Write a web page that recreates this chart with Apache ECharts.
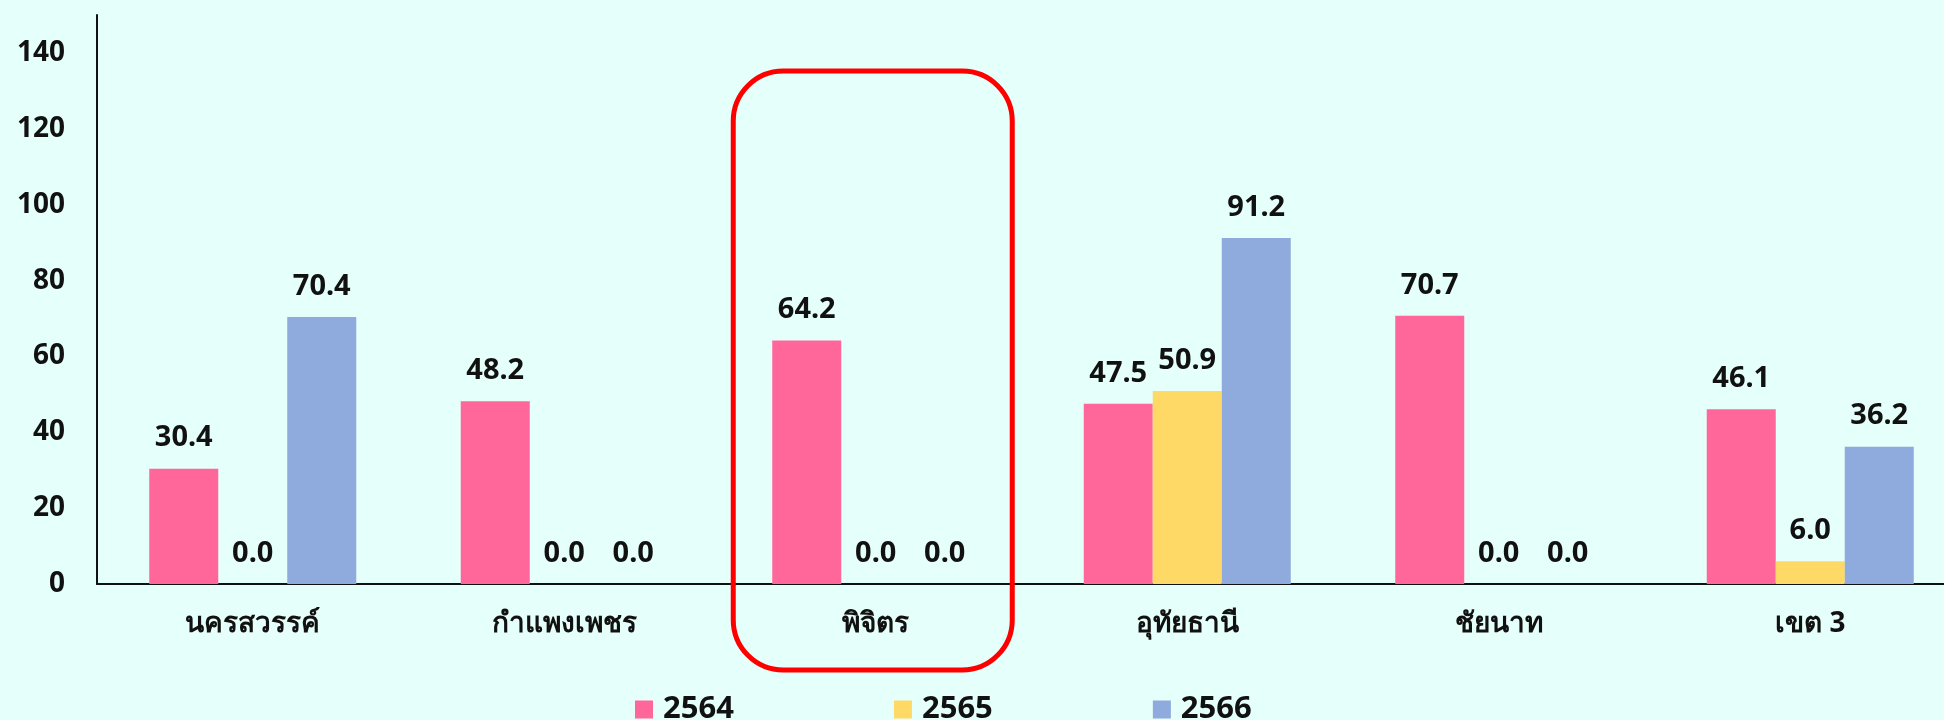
<!DOCTYPE html>
<html>
<head>
<meta charset="utf-8">
<script src="https://cdn.jsdelivr.net/npm/echarts@6/dist/echarts.min.js"></script>
<style>
  html, body { margin: 0; padding: 0; background: #e5fffa; overflow: hidden; }
  /* plot runs a little past the right edge of the window, like the original */
  #chart { width: 1966px; height: 720px; }
</style>
</head>
<body>
<div id="chart"></div>
<script>
var categories = ['นครสวรรค์', 'กำแพงเพชร', 'พิจิตร', 'อุทัยธานี', 'ชัยนาท', 'เขต 3'];
var years = ['2564', '2565', '2566'];
var values2564 = [30.4, 48.2, 64.2, 47.5, 70.7, 46.1];
var values2565 = [0.0, 0.0, 0.0, 50.9, 0.0, 6.0];
var values2566 = [70.4, 0.0, 0.0, 91.2, 0.0, 36.2];
var colors = ['#ff6699', '#ffd966', '#8faadc'];
var highlight = 'พิจิตร';

var font = '"Noto Sans", "DejaVu Sans", sans-serif';
var chartDom = document.getElementById('chart');
var chart = echarts.init(chartDom);

function makeSeries(name, data, color) {
    return {
        name: name,
        type: 'bar',
        data: data,
        barWidth: 69,
        barGap: '0%',
        itemStyle: { color: color },
        label: {
            show: true,
            position: 'top',
            distance: 16,
            color: '#111',
            fontFamily: font,
            fontWeight: 'bold',
            fontSize: 29,
            formatter: function (p) { return p.value.toFixed(1); }
        }
    };
}

var option = {
    backgroundColor: '#e5fffa',
    animation: false,
    color: colors,
    grid: { left: 97, right: 0, top: 15, bottom: 136, containLabel: false, outerBoundsMode: 'none' },
    legend: {
        data: years,
        left: 630,
        top: 689,
        itemWidth: 18,
        itemHeight: 18,
        itemGap: 160,
        icon: 'rect',
        textStyle: {
            fontFamily: font, fontWeight: 'bold', fontSize: 31, color: '#111',
            padding: [0, 0, 0, 5]
        }
    },
    xAxis: {
        type: 'category',
        data: categories,
        axisLine: { lineStyle: { color: '#111', width: 2 } },
        axisTick: { show: false },
        axisLabel: {
            margin: 26,
            color: '#111',
            fontFamily: font,
            fontWeight: 'bold',
            fontSize: 28
        }
    },
    yAxis: {
        type: 'value',
        min: 0,
        max: 150,
        interval: 20,
        splitLine: { show: false },
        axisLine: { show: true, lineStyle: { color: '#111', width: 2 } },
        axisTick: { show: false },
        axisLabel: {
            showMaxLabel: false,
            margin: 32,
            color: '#111',
            fontFamily: font,
            fontWeight: 'bold',
            fontSize: 28
        }
    },
    series: [
        makeSeries(years[0], values2564, colors[0]),
        makeSeries(years[1], values2565, colors[1]),
        makeSeries(years[2], values2566, colors[2])
    ]
};

chart.setOption(option);

// red rounded frame around the highlighted province
var cx = chart.convertToPixel({ xAxisIndex: 0 }, highlight);
var frameW = 279;
chart.setOption({
    graphic: [{
        type: 'rect',
        shape: { x: cx - frameW / 2 - 3, y: 71, width: frameW, height: 599, r: 50 },
        style: { fill: 'none', stroke: '#ff0000', lineWidth: 5 },
        z: 100
    }]
});
</script>
</body>
</html>
